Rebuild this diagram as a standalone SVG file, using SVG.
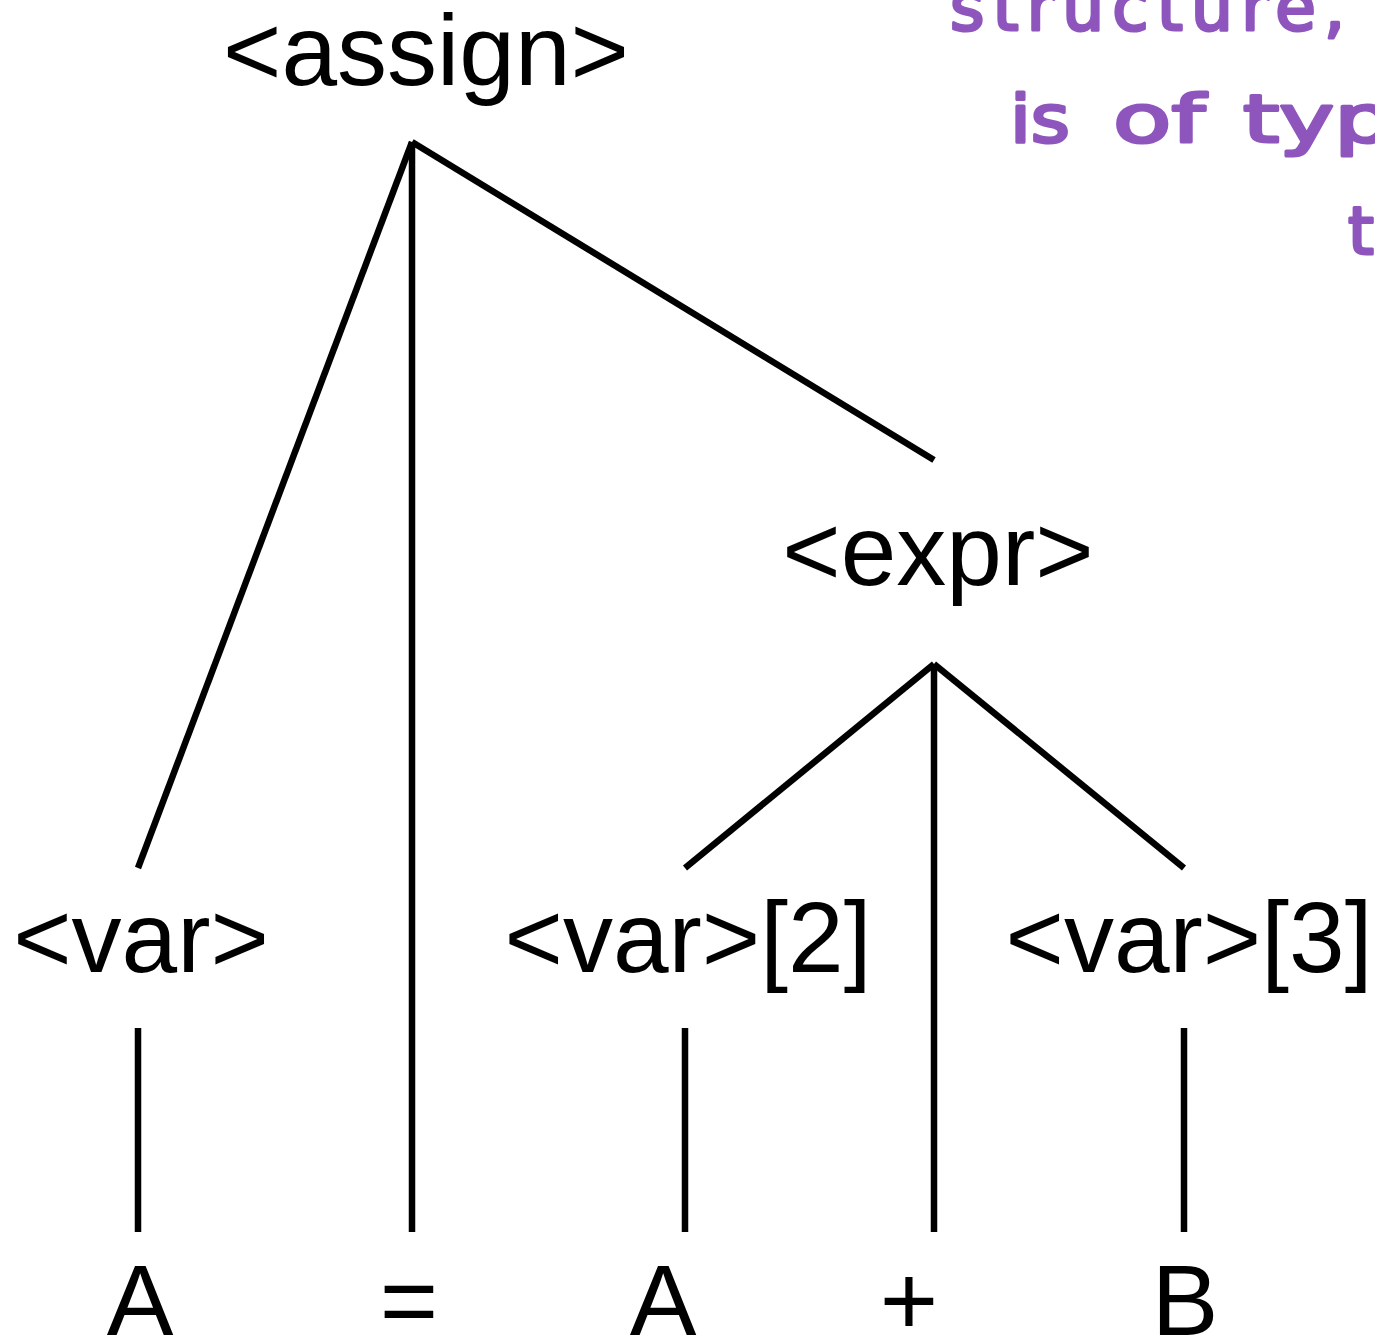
<svg xmlns="http://www.w3.org/2000/svg" width="1375" height="1341" viewBox="0 0 1375 1341">
<style>
.t{font-family:"Liberation Sans",Arial,sans-serif;font-size:100px;fill:#000;text-anchor:middle}
.e{stroke:#000;stroke-width:6.5;fill:none;stroke-linecap:butt}
.h{font-family:"DejaVu Sans",sans-serif;font-size:66px;fill:#8e55bd;stroke:#8e55bd;stroke-width:3;stroke-linejoin:round}
</style>
<rect width="1375" height="1341" fill="#fff"/>
<g id="note">
<text class="h" x="950" y="30" textLength="395" lengthAdjust="spacing">structure,</text>
<text class="h" x="1010" y="142" textLength="60" lengthAdjust="spacingAndGlyphs">is</text>
<text class="h" x="1113" y="142" textLength="92" lengthAdjust="spacingAndGlyphs">of</text>
<text class="h" x="1243" y="142" textLength="150" lengthAdjust="spacingAndGlyphs">typ</text>
<text class="h" x="1348" y="254">t</text>
</g>
<g id="connectors">
<line class="e" x1="412" y1="142" x2="138" y2="868"/>
<line class="e" x1="412" y1="142" x2="412" y2="1232"/>
<line class="e" x1="412" y1="142" x2="934" y2="460"/>
<line class="e" x1="934" y1="664" x2="685" y2="868"/>
<line class="e" x1="934" y1="664" x2="934" y2="1232"/>
<line class="e" x1="934" y1="664" x2="1184" y2="868"/>
<line class="e" x1="138" y1="1028" x2="138" y2="1232"/>
<line class="e" x1="685" y1="1028" x2="685" y2="1232"/>
<line class="e" x1="1184" y1="1028" x2="1184" y2="1232"/>
</g>
<g id="assign"><text class="t" x="426" y="85">&lt;assign&gt;</text></g>
<g id="expr"><text class="t" x="938" y="585">&lt;expr&gt;</text></g>
<g id="var1"><text class="t" x="141" y="972">&lt;var&gt;</text></g>
<g id="var2"><text class="t" x="688" y="972">&lt;var&gt;[2]</text></g>
<g id="var3"><text class="t" x="1189" y="972">&lt;var&gt;[3]</text></g>
<g id="tA1"><text class="t" x="140" y="1335">A</text></g>
<g id="tEq"><text class="t" x="409" y="1335">=</text></g>
<g id="tA2"><text class="t" x="663" y="1335">A</text></g>
<g id="tPlus"><text class="t" x="909" y="1335">+</text></g>
<g id="tB"><text class="t" x="1185" y="1335">B</text></g>
</svg>
